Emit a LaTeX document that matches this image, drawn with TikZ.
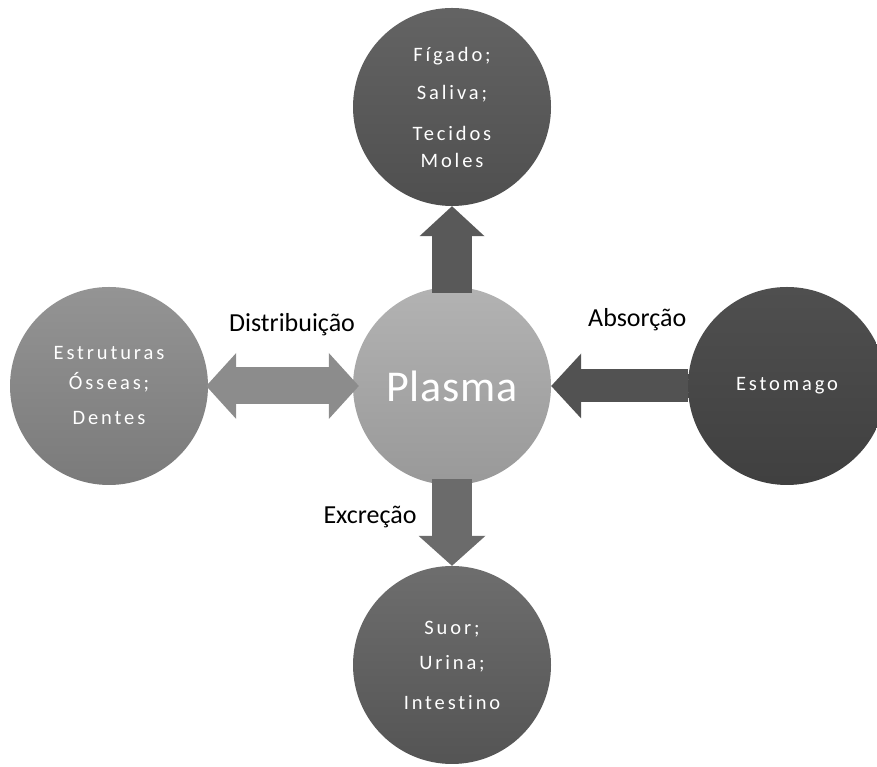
\documentclass[tikz,border=0pt]{standalone}
\usepackage{fontspec}
\setmainfont{Carlito}
\newfontfamily\circlefont[LetterSpace=14, Ligatures=NoCommon]{Carlito}
\usetikzlibrary{arrows.meta}
\begin{document}
\begin{tikzpicture}[
    x=1pt, y=1pt,
    organ/.style={circle, minimum size=198pt, inner sep=0pt, text=white, align=center,
      font=\circlefont\fontsize{20.5}{27}\selectfont},
    fat/.style={line width=#1, line cap=butt},
    head/.style={-{Triangle[width=#1, length=30pt, line width=0pt]}},
    label/.style={text=black, font=\fontsize{26}{30}\selectfont}
  ]
  \useasboundingbox (0,0) rectangle (877,767);
  \node[organ, top color=gray!78!black, bottom color=gray!62!black] (figado) at (452,660)
    {Fígado;\\[11pt] Saliva;\\[14pt] Tecidos\\ Moles};
  \node[organ, top color=black!30, bottom color=black!40] (plasma) at (452,381)
    {\fontsize{44}{50}\selectfont\addfontfeature{LetterSpace=2}Plasma};
  \node[organ, top color=black!42, bottom color=black!52] (ossos) at (109,381)
    {Estruturas\\[3pt] Ósseas;\\[8pt] Dentes};
  \node[organ, top color=black!69, bottom color=black!75] (estomago) at (787,381)
    {Estomago};
  \node[organ, top color=black!57, bottom color=black!67] (excretas) at (452,102)
    {Suor;\\[8pt] Urina;\\[13pt] Intestino};
  \draw[fat=40pt, head=65pt, draw=black!65, shorten <=-6pt] (plasma) -- (figado);
  \draw[fat=37pt, draw=black!45, shorten <=-2pt, shorten >=-6pt,
    {Triangle[width=66pt, length=30pt, line width=0pt]}-{Triangle[width=66pt, length=30pt, line width=0pt]}]
    (ossos) -- node[label, pos=0.58, yshift=61pt] {Distribuição} (plasma);
  \draw[fat=33pt, head=65pt, draw=black!68] (estomago) -- node[label, pos=0.37, yshift=66pt] {Absorção} (plasma);
  \draw[fat=40pt, head=67pt, draw=black!58, shorten <=-6pt] (plasma) -- node[label, pos=0.4, xshift=-82pt] {Excreção} (excretas);
\end{tikzpicture}
\end{document}
